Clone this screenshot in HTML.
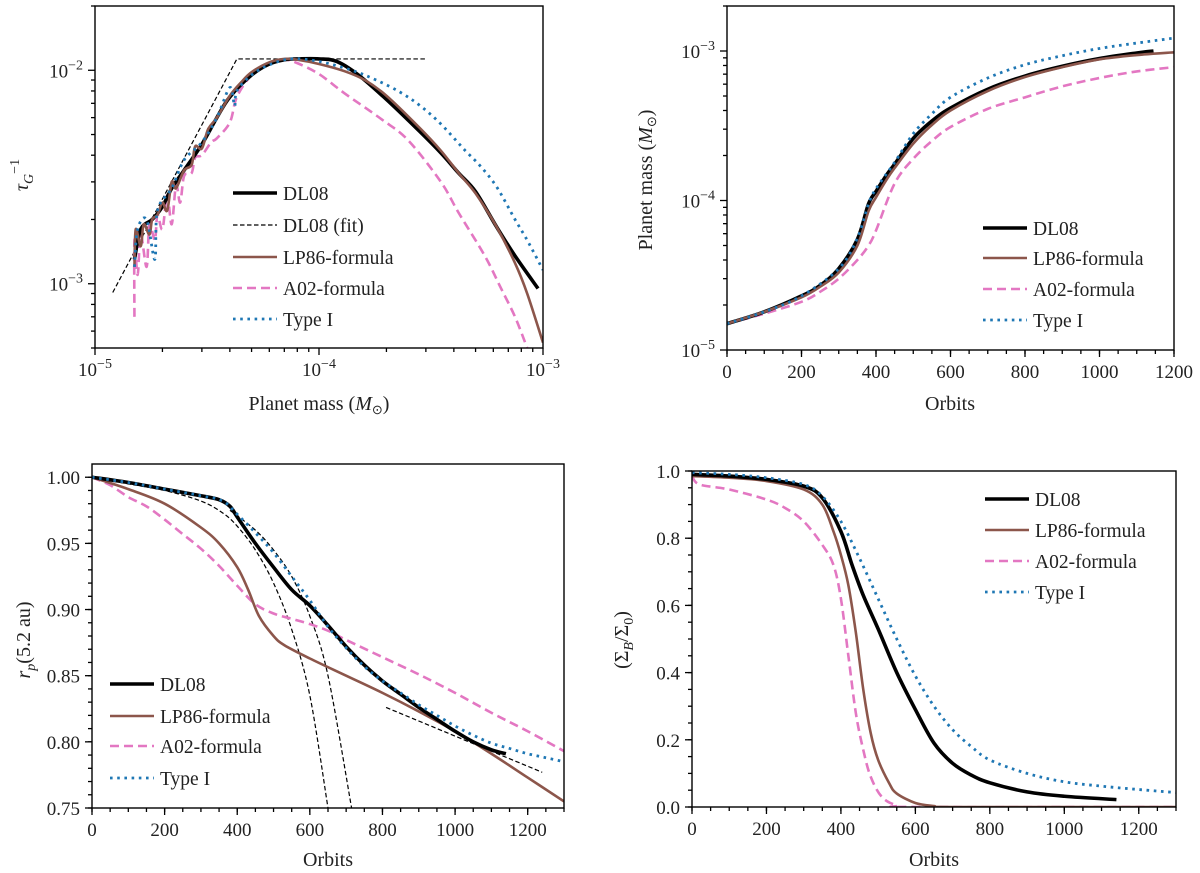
<!DOCTYPE html>
<html><head><meta charset="utf-8">
<style>
html,body{margin:0;padding:0;background:#fff;}
svg{display:block;font-family:"Liberation Serif",serif;}
text{font-family:"Liberation Serif",serif;}
</style></head>
<body>
<svg id="fig" width="1200" height="873" viewBox="0 0 1200 873" xmlns="http://www.w3.org/2000/svg" font-family="Liberation Serif, serif"></svg>
<script>
// ---------- Panel A data: torque timescale vs planet mass ----------
const aDL08M=[1.5e-5,1.6e-5,1.8e-5,2e-5,2.2e-5,2.5e-5,3e-5,3.5e-5,4e-5,5e-5,6e-5,7e-5,8e-5,1e-4,1.2e-4,1.5e-4,2e-4,2.8e-4,3.5e-4,4.2e-4,5e-4,6.2e-4,7.5e-4,9.5e-4];
const aDL08T=[1.3e-3,1.8e-3,2.0e-3,2.3e-3,2.8e-3,3.4e-3,4.5e-3,6e-3,7.5e-3,9.5e-3,1.07e-2,1.12e-2,1.13e-2,1.13e-2,1.1e-2,9.5e-3,7.3e-3,5.2e-3,4.1e-3,3.3e-3,2.7e-3,1.85e-3,1.35e-3,9.5e-4];
const aFitM=[1.2e-5,4.3e-5,3e-4];
const aFitT=[9.1e-4,1.13e-2,1.13e-2];
const aLP86M=[1.5e-5,1.52e-5,1.6e-5,1.65e-5,1.75e-5,1.8e-5,1.9e-5,2e-5,2.1e-5,2.2e-5,2.3e-5,2.5e-5,2.7e-5,2.8e-5,3e-5,3.2e-5,3.5e-5,4e-5,4.5e-5,5e-5,6e-5,7e-5,8e-5,1e-4,1.3e-4,1.6e-4,2e-4,2.8e-4,3.5e-4,4.2e-4,5e-4,6.2e-4,7.5e-4,8.5e-4,1e-3];
const aLP86T=[1.2e-3,1.8e-3,1.5e-3,1.9e-3,1.7e-3,2e-3,2.1e-3,2.4e-3,2.2e-3,3.0e-3,2.8e-3,3.4e-3,3.6e-3,4.4e-3,4.3e-3,5.3e-3,6e-3,7.6e-3,8.8e-3,9.8e-3,1.09e-2,1.13e-2,1.12e-2,1.07e-2,9.9e-3,9e-3,7.6e-3,5.4e-3,4.2e-3,3.3e-3,2.65e-3,1.85e-3,1.25e-3,9e-4,5.3e-4];
const aA02M=[1.5e-5,1.5e-5,1.55e-5,1.6e-5,1.7e-5,1.75e-5,1.85e-5,1.9e-5,2e-5,2.1e-5,2.2e-5,2.3e-5,2.4e-5,2.5e-5,2.7e-5,2.8e-5,3e-5,3.3e-5,3.5e-5,4e-5,4.3e-5,5e-5,6e-5,7e-5,8e-5,1e-4,1.3e-4,1.9e-4,2.5e-4,3.5e-4,4.2e-4,5.5e-4,6.5e-4,7.5e-4,8.5e-4];
const aA02T=[7e-4,1.6e-3,1.1e-3,1.7e-3,1.2e-3,1.9e-3,1.6e-3,2.1e-3,1.8e-3,2.6e-3,1.9e-3,2.9e-3,2.4e-3,3.2e-3,3.3e-3,3.9e-3,4.0e-3,4.6e-3,4.8e-3,5.7e-3,7.5e-3,9.5e-3,1.08e-2,1.12e-2,1.08e-2,9.6e-3,7.8e-3,5.9e-3,4.7e-3,3.0e-3,2.15e-3,1.35e-3,9.5e-4,7e-4,5e-4];
const aTypeIM=[1.5e-5,1.55e-5,1.7e-5,1.85e-5,1.9e-5,2.2e-5,2.5e-5,3e-5,3.5e-5,4e-5,4.2e-5,4.3e-5,5e-5,6e-5,7.5e-5,1e-4,1.4e-4,1.8e-4,2.3e-4,2.84e-4,3.5e-4,4.5e-4,5.2e-4,6.2e-4,7.5e-4,8.5e-4,1e-3];
const aTypeIT=[1.2e-3,1.8e-3,2e-3,1.3e-3,2.2e-3,2.8e-3,3.8e-3,4.6e-3,6e-3,8.3e-3,6.8e-3,8e-3,9.5e-3,1.06e-2,1.13e-2,1.1e-2,1.0e-2,9e-3,7.9e-3,6.8e-3,5.6e-3,4.2e-3,3.6e-3,2.85e-3,2e-3,1.6e-3,1.16e-3];
// ---------- Panel B data: planet mass vs orbits ----------
const bDL08X=[0,100,200,250,300,350,380,400,430,450,500,550,600,700,800,900,1000,1100,1145];
const bDL08Y=[1.5e-5,1.8e-5,2.3e-5,2.7e-5,3.5e-5,5.5e-5,9.5e-5,1.15e-4,1.5e-4,1.75e-4,2.6e-4,3.4e-4,4.15e-4,5.55e-4,6.8e-4,7.9e-4,8.9e-4,9.7e-4,1.0e-3];
const bLP86X=[0,100,200,250,300,350,380,400,430,450,500,550,600,700,800,900,1000,1100,1200];
const bLP86Y=[1.5e-5,1.8e-5,2.25e-5,2.65e-5,3.3e-5,5e-5,8.5e-5,1.05e-4,1.4e-4,1.65e-4,2.4e-4,3.2e-4,4e-4,5.4e-4,6.7e-4,7.8e-4,8.8e-4,9.4e-4,9.8e-4];
const bA02X=[0,100,200,250,300,350,380,400,450,500,550,600,700,800,900,1000,1100,1200];
const bA02Y=[1.5e-5,1.75e-5,2.1e-5,2.45e-5,3e-5,4e-5,5e-5,6.3e-5,1.3e-4,1.9e-4,2.5e-4,3.1e-4,4.1e-4,4.9e-4,5.8e-4,6.6e-4,7.3e-4,7.8e-4];
const bTypeIX=[0,100,200,300,350,380,400,450,500,550,600,700,800,900,1000,1100,1200];
const bTypeIY=[1.5e-5,1.8e-5,2.3e-5,3.5e-5,5.6e-5,9.5e-5,1.2e-4,1.8e-4,2.8e-4,3.8e-4,4.9e-4,6.6e-4,8.1e-4,9.3e-4,1.04e-3,1.13e-3,1.22e-3];
// ---------- Panel C data: planet radius vs orbits ----------
const cDL08X=[0,100,200,300,350,380,400,450,500,550,600,650,700,750,800,850,900,950,1000,1050,1100,1140];
const cDL08Y=[1.0,0.996,0.991,0.986,0.983,0.978,0.970,0.950,0.932,0.915,0.903,0.888,0.872,0.858,0.846,0.836,0.826,0.817,0.808,0.800,0.794,0.791];
const cLP86X=[0,100,200,300,350,400,430,460,500,530,600,700,800,900,1000,1100,1200,1300];
const cLP86Y=[1.0,0.991,0.980,0.962,0.950,0.932,0.915,0.895,0.880,0.873,0.863,0.850,0.837,0.823,0.808,0.791,0.773,0.755];
const cA02X=[0,50,100,150,200,250,300,350,400,450,500,550,600,650,700,800,900,1000,1100,1200,1300];
const cA02Y=[1.0,0.994,0.985,0.978,0.968,0.957,0.946,0.933,0.918,0.904,0.897,0.893,0.889,0.884,0.877,0.864,0.851,0.837,0.822,0.808,0.793];
const cTypeIX=[0,100,200,300,360,400,450,500,550,600,650,700,750,800,850,900,950,1000,1050,1100,1150,1200,1250,1300];
const cTypeIY=[1.0,0.996,0.991,0.986,0.982,0.972,0.958,0.943,0.925,0.907,0.887,0.871,0.857,0.846,0.837,0.828,0.820,0.812,0.805,0.799,0.795,0.791,0.788,0.785];
const cFit1X=[0,100,200,300,360,400,450,500,550,600,650];
const cFit1Y=[1.0,0.995,0.990,0.982,0.973,0.963,0.945,0.920,0.885,0.835,0.75];
const cFit2X=[380,450,500,550,600,650,715];
const cFit2Y=[0.975,0.960,0.945,0.925,0.895,0.850,0.75];
const cFit3X=[810,1240];
const cFit3Y=[0.826,0.777];
// ---------- Panel D data: surface density ratio vs orbits ----------
const dDL08X=[0,100,200,300,350,400,430,460,500,550,600,650,700,750,800,900,1000,1140];
const dDL08Y=[0.99,0.985,0.975,0.955,0.92,0.82,0.72,0.63,0.53,0.40,0.29,0.19,0.13,0.095,0.072,0.045,0.032,0.022];
const dLP86X=[0,100,200,300,350,380,400,420,440,460,480,500,530,550,600,650,700,1300];
const dLP86Y=[0.985,0.98,0.97,0.945,0.90,0.82,0.75,0.66,0.52,0.35,0.22,0.14,0.07,0.04,0.012,0.003,0,0];
const dA02X=[0,20,100,200,250,300,350,380,400,420,440,460,480,510,550,600,1300];
const dA02Y=[0.985,0.96,0.945,0.915,0.89,0.85,0.78,0.72,0.62,0.45,0.28,0.17,0.09,0.03,0.005,0,0];
const dTypeIX=[0,100,200,300,350,400,450,500,550,600,650,700,750,800,900,1000,1100,1200,1300];
const dTypeIY=[0.995,0.99,0.98,0.96,0.925,0.85,0.74,0.62,0.50,0.39,0.30,0.23,0.18,0.14,0.10,0.075,0.062,0.052,0.043];

const NS='http://www.w3.org/2000/svg';
const svg=document.getElementById('fig');
function mk(tag,attrs,parent){const e=document.createElementNS(NS,tag);for(const k in attrs)e.setAttribute(k,attrs[k]);(parent||svg).appendChild(e);return e;}
const L10=Math.log10;
function linS(d0,d1,p0,p1){return v=>p0+(v-d0)/(d1-d0)*(p1-p0);}
function logS(d0,d1,p0,p1){return v=>p0+(L10(v)-L10(d0))/(L10(d1)-L10(d0))*(p1-p0);}

const STY={
 dl08:{stroke:'#000','stroke-width':3.6,fill:'none'},
 fit:{stroke:'#000','stroke-width':1.2,'stroke-dasharray':'4.5,2.5',fill:'none'},
 lp86:{stroke:'#8c564b','stroke-width':2.6,fill:'none'},
 a02:{stroke:'#e377c2','stroke-width':2.6,'stroke-dasharray':'9,5',fill:'none'},
 typei:{stroke:'#1f77b4','stroke-width':2.8,'stroke-dasharray':'2.6,4.6',fill:'none'}
};

function series(g,xs,ys,sx,sy,sty,name,straight){
  const P=xs.map((x,i)=>[sx(x),sy(ys[i])]);
  let d='M'+P[0][0].toFixed(2)+','+P[0][1].toFixed(2);
  for(let i=0;i<P.length-1;i++){
    const p0=P[Math.max(0,i-1)],p1=P[i],p2=P[i+1],p3=P[Math.min(P.length-1,i+2)];
    if(straight){d+='L'+p2[0].toFixed(2)+','+p2[1].toFixed(2);continue;}
    const c1=[p1[0]+(p2[0]-p0[0])/6,p1[1]+(p2[1]-p0[1])/6];
    const c2=[p2[0]-(p3[0]-p1[0])/6,p2[1]-(p3[1]-p1[1])/6];
    d+='C'+c1[0].toFixed(2)+','+c1[1].toFixed(2)+' '+c2[0].toFixed(2)+','+c2[1].toFixed(2)+' '+p2[0].toFixed(2)+','+p2[1].toFixed(2);
  }
  const p=mk('path',Object.assign({d:d},STY[sty]),g);
  
  
}

function sup(t,base,exp){mk('tspan',{},t).textContent=base;const s=mk('tspan',{dy:-8,'font-size':14},t);s.textContent=exp;}

let clipId=0;
function panel(o){
  const g=mk('g',{});
  
  
  clipId++;
  const cp=mk('clipPath',{id:'cp'+clipId},g);
  mk('rect',{x:o.x0,y:o.y0,width:o.x1-o.x0,height:o.y1-o.y0},cp);
  const ax=mk('g',{stroke:'#000','stroke-width':1.3},g);
  
  
  const lbl=mk('g',{'font-size':19,fill:'#222','font-family':'Liberation Serif, serif'},g);
  o.xMajor.forEach(v=>{const x=o.sx(v);mk('line',{x1:x,x2:x,y1:o.y1,y2:o.y1+7},ax);});
  o.xMinor.forEach(v=>{const x=o.sx(v);mk('line',{x1:x,x2:x,y1:o.y1,y2:o.y1+4},ax);});
  o.yMajor.forEach(v=>{const y=o.sy(v);mk('line',{x1:o.x0,x2:o.x0-7,y1:y,y2:y},ax);});
  o.yMinor.forEach(v=>{const y=o.sy(v);mk('line',{x1:o.x0,x2:o.x0-4,y1:y,y2:y},ax);});
  o.xMajor.forEach((v,i)=>{
    const t=mk('text',{x:o.sx(v),y:o.y1+28,'text-anchor':'middle'},lbl);
    
    
    if(o.xLog){sup(t,'10','−'+o.xLabels[i]);}else t.textContent=o.xLabels[i];
  });
  o.yMajor.forEach((v,i)=>{
    const t=mk('text',{x:o.x0-12,y:o.sy(v)+7,'text-anchor':'end'},lbl);
    
    
    if(o.yLog){sup(t,'10','−'+o.yLabels[i]);}else t.textContent=o.yLabels[i];
  });
  const pg=mk('g',{'clip-path':'url(#cp'+clipId+')'},g);
  
  
  o.draw(pg);
  const fr=mk('rect',{x:o.x0,y:o.y0,width:o.x1-o.x0,height:o.y1-o.y0,fill:'none',stroke:'#000','stroke-width':1.4},g);
  
  
  const lg=mk('g',{'font-size':19.5,fill:'#222','font-family':'Liberation Serif, serif'},g);
  
  
  o.legend.rows.forEach((r,i)=>{
    const y=o.legend.ys[i];
    const ln=mk('line',Object.assign({x1:o.legend.x,x2:o.legend.x+44,y1:y,y2:y},STY[r[0]]),lg);
    
    
    const t=mk('text',{x:o.legend.x+50,y:y+7},lg);
    
    
    t.textContent=r[1];
  });
  return g;
}
function logMinor(lo,hi){const r=[];for(let e=Math.floor(L10(lo));e<=Math.ceil(L10(hi));e++){for(let k=2;k<=9;k++){const v=k*Math.pow(10,e);if(v>=lo*0.999&&v<=hi*1.001)r.push(v);}}return r;}
function rng(a,b,s){const r=[];for(let v=a;v<=b+1e-9;v+=s)r.push(+v.toFixed(6));return r;}

// Panel A
const axA={x0:95,x1:543,y0:6,y1:348};
const sxA=logS(1e-5,1e-3,axA.x0,axA.x1), syA=logS(5e-4,2e-2,axA.y1,axA.y0);
panel(Object.assign({name:'panel-torque',sx:sxA,sy:syA,xLog:true,yLog:true,
 xMajor:[1e-5,1e-4,1e-3],xLabels:['5','4','3'],xMinor:logMinor(1e-5,1e-3),
 yMajor:[1e-3,1e-2],yLabels:['3','2'],yMinor:logMinor(5e-4,2e-2),
 legend:{x:233,ys:[193,225,257,288,319],rows:[['dl08','DL08'],['fit','DL08 (fit)'],['lp86','LP86-formula'],['a02','A02-formula'],['typei','Type I']]},
 draw:g=>{
  series(g,aFitM,aFitT,sxA,syA,'fit','dl08-fit-line',true);
  series(g,aA02M,aA02T,sxA,syA,'a02','a02-line');
  series(g,aDL08M,aDL08T,sxA,syA,'dl08','dl08-line');
  series(g,aLP86M,aLP86T,sxA,syA,'lp86','lp86-line');
  series(g,aTypeIM,aTypeIT,sxA,syA,'typei','type-i-line');
 }},axA));

// Panel B
const axB={x0:727,x1:1174,y0:6,y1:350};
const sxB=linS(0,1200,axB.x0,axB.x1), syB=logS(1e-5,2e-3,axB.y1,axB.y0);
panel(Object.assign({name:'panel-mass',sx:sxB,sy:syB,xLog:false,yLog:true,
 xMajor:rng(0,1200,200),xLabels:['0','200','400','600','800','1000','1200'],xMinor:rng(0,1200,50),
 yMajor:[1e-5,1e-4,1e-3],yLabels:['5','4','3'],yMinor:logMinor(1e-5,2e-3),
 legend:{x:983,ys:[228,258,289,320],rows:[['dl08','DL08'],['lp86','LP86-formula'],['a02','A02-formula'],['typei','Type I']]},
 draw:g=>{
  series(g,bA02X,bA02Y,sxB,syB,'a02','a02-line');
  series(g,bDL08X,bDL08Y,sxB,syB,'dl08','dl08-line');
  series(g,bLP86X,bLP86Y,sxB,syB,'lp86','lp86-line');
  series(g,bTypeIX,bTypeIY,sxB,syB,'typei','type-i-line');
 }},axB));

// Panel C
const axC={x0:92,x1:564,y0:464,y1:808};
const sxC=linS(0,1300,axC.x0,axC.x1), syC=linS(0.75,1.01,axC.y1,axC.y0);
panel(Object.assign({name:'panel-radius',sx:sxC,sy:syC,xLog:false,yLog:false,
 xMajor:rng(0,1200,200),xLabels:['0','200','400','600','800','1000','1200'],xMinor:rng(0,1300,50),
 yMajor:[0.75,0.8,0.85,0.9,0.95,1.0],yLabels:['0.75','0.80','0.85','0.90','0.95','1.00'],yMinor:rng(0.75,1.0,0.01),
 legend:{x:110,ys:[684,716,746,778],rows:[['dl08','DL08'],['lp86','LP86-formula'],['a02','A02-formula'],['typei','Type I']]},
 draw:g=>{
  series(g,cFit1X,cFit1Y,sxC,syC,'fit','fit-line-1');
  series(g,cFit2X,cFit2Y,sxC,syC,'fit','fit-line-2');
  series(g,cFit3X,cFit3Y,sxC,syC,'fit','fit-line-3',true);
  series(g,cA02X,cA02Y,sxC,syC,'a02','a02-line');
  series(g,cLP86X,cLP86Y,sxC,syC,'lp86','lp86-line');
  series(g,cDL08X,cDL08Y,sxC,syC,'dl08','dl08-line');
  series(g,cTypeIX,cTypeIY,sxC,syC,'typei','type-i-line');
 }},axC));

// Panel D
const axD={x0:692,x1:1176,y0:471,y1:807};
const sxD=linS(0,1300,axD.x0,axD.x1), syD=linS(0,1.0,axD.y1,axD.y0);
panel(Object.assign({name:'panel-density',sx:sxD,sy:syD,xLog:false,yLog:false,
 xMajor:rng(0,1200,200),xLabels:['0','200','400','600','800','1000','1200'],xMinor:rng(0,1300,50),
 yMajor:[0,0.2,0.4,0.6,0.8,1.0],yLabels:['0.0','0.2','0.4','0.6','0.8','1.0'],yMinor:rng(0,1.0,0.05),
 legend:{x:985,ys:[499,530,561,592],rows:[['dl08','DL08'],['lp86','LP86-formula'],['a02','A02-formula'],['typei','Type I']]},
 draw:g=>{
  series(g,dA02X,dA02Y,sxD,syD,'a02','a02-line');
  series(g,dLP86X,dLP86Y,sxD,syD,'lp86','lp86-line');
  series(g,dDL08X,dDL08Y,sxD,syD,'dl08','dl08-line');
  series(g,dTypeIX,dTypeIY,sxD,syD,'typei','type-i-line');
 }},axD));

// Axis titles
const tg=mk('g',{'font-size':20,fill:'#222','text-anchor':'middle','font-family':'Liberation Serif, serif'});
function title(x,y,rot,name,fn){const t=mk('text',{x:x,y:y,transform:rot?'rotate(-90 '+x+' '+y+')':''},tg);fn(t);}
title(319,410,false,'x-axis-title-torque',t=>{mk('tspan',{},t).textContent='Planet mass (';mk('tspan',{'font-style':'italic'},t).textContent='M';const s=mk('tspan',{'font-size':13,dy:4},t);s.textContent='⊙';mk('tspan',{dy:-4},t).textContent=')';});
title(28,175,true,'y-axis-title-torque',t=>{mk('tspan',{'font-style':'italic'},t).textContent='τ';mk('tspan',{'font-style':'italic','font-size':14,dy:5},t).textContent='G';mk('tspan',{'font-size':14,dy:-14},t).textContent='−1';});
title(950,410,false,'x-axis-title-mass',t=>{t.textContent='Orbits';});
title(652,180,true,'y-axis-title-mass',t=>{mk('tspan',{},t).textContent='Planet mass (';mk('tspan',{'font-style':'italic'},t).textContent='M';const s=mk('tspan',{'font-size':13,dy:4},t);s.textContent='⊙';mk('tspan',{dy:-4},t).textContent=')';});
title(328,866,false,'x-axis-title-radius',t=>{t.textContent='Orbits';});
title(30,640,true,'y-axis-title-radius',t=>{mk('tspan',{'font-style':'italic'},t).textContent='r';mk('tspan',{'font-style':'italic','font-size':14,dy:5},t).textContent='p';mk('tspan',{dy:-5},t).textContent='(5.2 au)';});
title(934,866,false,'x-axis-title-density',t=>{t.textContent='Orbits';});
title(628,640,true,'y-axis-title-density',t=>{mk('tspan',{},t).textContent='(Σ';mk('tspan',{'font-style':'italic','font-size':14,dy:5},t).textContent='B';mk('tspan',{dy:-5},t).textContent='/Σ';mk('tspan',{'font-size':14,dy:5},t).textContent='0';mk('tspan',{dy:-5},t).textContent=')';});
</script>
</body></html>
